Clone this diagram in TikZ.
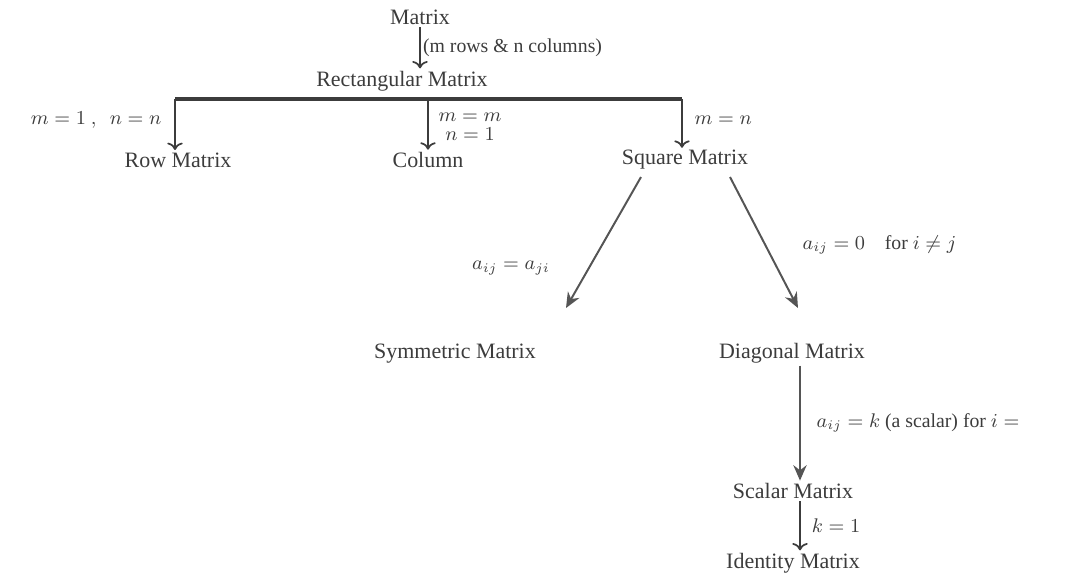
\documentclass[tikz,border=0pt]{standalone}
\usepackage{amsmath}
\usepackage{amssymb}
\usepackage{fontspec}
\setmainfont{Liberation Serif}
\usepackage{tikz}
\usetikzlibrary{arrows.meta}
\definecolor{inkgray}{RGB}{60,60,60}
\definecolor{linegray}{RGB}{85,85,85}
\tikzset{
  box/.style={inner sep=1pt,text=inkgray,font=\fontsize{10}{12}\selectfont},
  lbl/.style={inner sep=1pt,text=inkgray,font=\small},
  arr/.style={->,draw=inkgray,line width=0.8pt},
  diag/.style={-{Stealth[length=7pt,width=6pt]},draw=linegray,line width=0.9pt},
  bar/.style={draw=inkgray,line width=1.4pt}
}

\begin{document}
\begin{tikzpicture}[x=0.016cm,y=-0.016cm]
			\useasboundingbox (0,0) rectangle (1082,576);
			\node[box] (mat) at (420,17) {Matrix};
			\node[box] (rect) at (402,81) {Rectangular Matrix};
			\draw[arr] (mat.south) -- node[lbl,right] {(m rows \& n columns)} (mat.south|-rect.north);
			\coordinate (bl) at (175,99);
			\coordinate (bm) at (428,99);
			\coordinate (br) at (682,99);
			\draw[bar] (bl) -- (br);
			\node[box] (row) at (178,160) {Row Matrix};
			\node[box] (col) at (428,160) {Column};
			\node[box] (sq) at (685,160) {Square Matrix};
			\draw[arr] (bl) -- (bl|-row.north);
			\draw[arr] (bm) -- (bm|-col.north);
			\draw[arr] (br) -- (br|-sq.north);
			\node[lbl,left] at (164,120) {$m = 1 \ ,\ \ n = n$};
			\node[lbl] at (470,117) {$m = m$};
			\node[lbl] at (470,134) {$n = 1$};
			\node[lbl,right] at (692,120) {$m = n$};
			\node[box] (sym) at (455,354) {Symmetric Matrix};
			\node[box] (dia) at (792,353) {Diagonal Matrix};
			\coordinate (sqL) at (641,177);
			\coordinate (sqR) at (730,177);
			\coordinate (symtip) at (566,308);
			\coordinate (diatip) at (798,308);
			\draw[diag] (sqL) -- (symtip);
			\draw[diag] (sqR) -- (diatip);
			\node[lbl] at (511,268) {$a_{ij} = a_{ji}$};
			\node[lbl,right] at (800,245) {$a_{ij} = 0 \quad \text{for } i \neq j$};
			\node[box] (sca) at (793,491) {Scalar Matrix};
			\node[box] (idm) at (793,563) {Identity Matrix};
			\draw[diag,line width=1.2pt] (dia.south-|800,0) -- node[lbl,right=6pt] {$a_{ij} = k$ (a scalar) for $i =$} (sca.north-|800,0);
			\draw[arr] (sca.south-|800,0) -- node[lbl,right=4pt] {$k = 1$} (idm.north-|800,0);
		\end{tikzpicture}
\end{document}
